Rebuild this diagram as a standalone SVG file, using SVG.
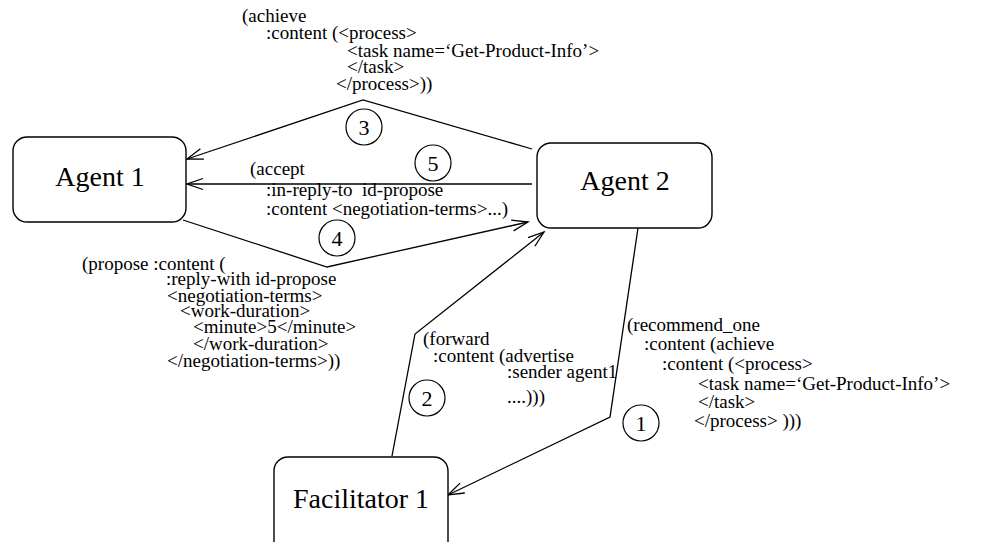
<svg xmlns="http://www.w3.org/2000/svg" width="1008" height="542" viewBox="0 0 1008 542" font-family="'Liberation Serif', 'Times New Roman', Times, 'DejaVu Serif', serif">
  <style>
    .box { fill: #fff; stroke: #000; stroke-width: 1.4; }
    .name { font-size: 28px; fill: #000; text-anchor: middle; }
    .edge { fill: none; stroke: #000; stroke-width: 1.3; }
    .step { fill: #fff; stroke: #000; stroke-width: 1.2; }
    .num { font-size: 22px; fill: #000; text-anchor: middle; }
    .msg { font-size: 19px; fill: #000; }
  </style>
  <defs>
    <marker id="open" viewBox="-17 -7 19 14" markerWidth="19" markerHeight="14" refX="0" refY="0" orient="auto" markerUnits="userSpaceOnUse">
      <path d="M-16,-5.5 L0,0 L-16,5.5" fill="none" stroke="#000" stroke-width="1.3"/>
    </marker>
  </defs>

  <rect width="1008" height="542" fill="#fff"/>

  <!-- message connectors -->
  <g id="connectors">
    <polyline class="edge" points="532,149 363,100 187,159" marker-end="url(#open)"/>
    <polyline class="edge" points="532,184 187,184" marker-end="url(#open)"/>
    <polyline class="edge" points="183,220 327,267 528,222" marker-end="url(#open)"/>
    <polyline class="edge" points="392,456 415,334 544,232" marker-end="url(#open)"/>
    <polyline class="edge" points="638,228 610,417 448,495" marker-end="url(#open)"/>
  </g>

  <!-- step numbers -->
  <g id="steps">
    <circle class="step" cx="364" cy="127" r="18"/><text class="num" x="364" y="135">3</text>
    <circle class="step" cx="433" cy="163" r="18"/><text class="num" x="433" y="171">5</text>
    <circle class="step" cx="337" cy="238" r="18"/><text class="num" x="337" y="246">4</text>
    <circle class="step" cx="427" cy="398" r="18"/><text class="num" x="427" y="406">2</text>
    <circle class="step" cx="641" cy="423" r="18"/><text class="num" x="641" y="431">1</text>
  </g>

  <!-- agents -->
  <g id="agent1">
    <rect class="box" x="13" y="137" width="173" height="85" rx="14"/>
    <text class="name" x="100" y="186">Agent 1</text>
  </g>
  <g id="agent2">
    <rect class="box" x="537" y="143" width="175" height="85" rx="14"/>
    <text class="name" x="625" y="190">Agent 2</text>
  </g>
  <g id="facilitator1">
    <rect class="box" x="274" y="457" width="174" height="100" rx="14"/>
    <text class="name" x="361" y="508">Facilitator 1</text>
  </g>

  <!-- message contents -->
  <g id="msg-achieve" class="msg">
    <text x="242" y="22">(achieve</text>
    <text x="266" y="39">:content (&lt;process&gt;</text>
    <text x="347" y="57">&lt;task name=‘Get-Product-Info’&gt;</text>
    <text x="347" y="73">&lt;/task&gt;</text>
    <text x="336" y="90">&lt;/process&gt;))</text>
  </g>
  <g id="msg-accept" class="msg">
    <text x="250" y="175">(accept</text>
    <text x="266" y="196" xml:space="preserve">:in-reply-to  id-propose</text>
    <text x="266" y="215">:content &lt;negotiation-terms&gt;...)</text>
  </g>
  <g id="msg-propose" class="msg">
    <text x="82" y="270">(propose :content (</text>
    <text x="166" y="285">:reply-with id-propose</text>
    <text x="167" y="302">&lt;negotiation-terms&gt;</text>
    <text x="180" y="317">&lt;work-duration&gt;</text>
    <text x="193" y="333">&lt;minute&gt;5&lt;/minute&gt;</text>
    <text x="193" y="350">&lt;/work-duration&gt;</text>
    <text x="167" y="367">&lt;/negotiation-terms&gt;))</text>
  </g>
  <g id="msg-forward" class="msg">
    <text x="423" y="345">(forward</text>
    <text x="433" y="362">:content (advertise</text>
    <text x="507" y="378">:sender agent1</text>
    <text x="507" y="403">....)))</text>
  </g>
  <g id="msg-recommend" class="msg">
    <text x="627" y="331">(recommend_one</text>
    <text x="644" y="350">:content (achieve</text>
    <text x="662" y="370">:content (&lt;process&gt;</text>
    <text x="698" y="390">&lt;task name=‘Get-Product-Info’&gt;</text>
    <text x="698" y="408">&lt;/task&gt;</text>
    <text x="694" y="427">&lt;/process&gt; )))</text>
  </g>
</svg>
